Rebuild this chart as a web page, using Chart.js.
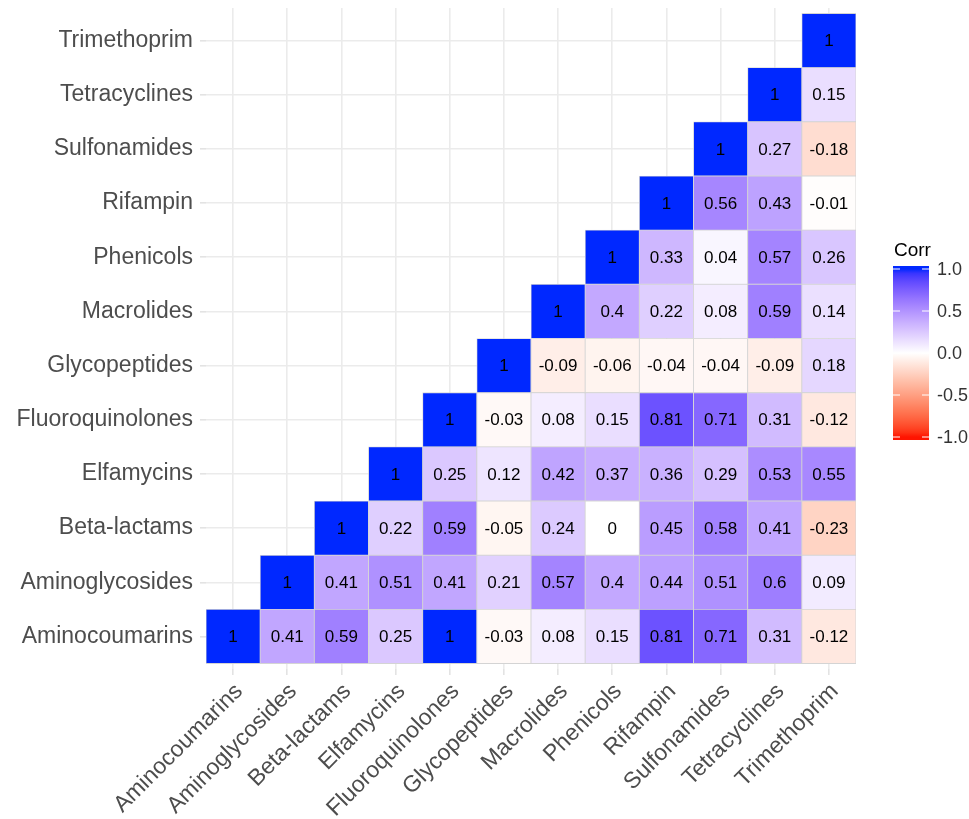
<!DOCTYPE html>
<html>
<head>
<meta charset="utf-8">
<script src="https://cdn.jsdelivr.net/npm/chart.js@4"></script>
<style>
  body { margin: 0; background: #fff; }
</style>
</head>
<body>
<canvas id="corrChart" width="969" height="819"></canvas>
<script>
const drugs = ['Aminocoumarins', 'Aminoglycosides', 'Beta-lactams', 'Elfamycins', 'Fluoroquinolones',
  'Glycopeptides', 'Macrolides', 'Phenicols', 'Rifampin', 'Sulfonamides', 'Tetracyclines', 'Trimethoprim'];

// each row starts at the diagonal and runs to the right
const aminocoumarins = [1, 0.41, 0.59, 0.25, 1, -0.03, 0.08, 0.15, 0.81, 0.71, 0.31, -0.12];
const aminoglycosides = [1, 0.41, 0.51, 0.41, 0.21, 0.57, 0.4, 0.44, 0.51, 0.6, 0.09];
const betaLactams = [1, 0.22, 0.59, -0.05, 0.24, 0, 0.45, 0.58, 0.41, -0.23];
const elfamycins = [1, 0.25, 0.12, 0.42, 0.37, 0.36, 0.29, 0.53, 0.55];
const fluoroquinolones = [1, -0.03, 0.08, 0.15, 0.81, 0.71, 0.31, -0.12];
const glycopeptides = [1, -0.09, -0.06, -0.04, -0.04, -0.09, 0.18];
const macrolides = [1, 0.4, 0.22, 0.08, 0.59, 0.14];
const phenicols = [1, 0.33, 0.04, 0.57, 0.26];
const rifampin = [1, 0.56, 0.43, -0.01];
const sulfonamides = [1, 0.27, -0.18];
const tetracyclines = [1, 0.15];
const trimethoprim = [1];

const corrRows = [aminocoumarins, aminoglycosides, betaLactams, elfamycins, fluoroquinolones,
  glycopeptides, macrolides, phenicols, rifampin, sulfonamides, tetracyclines, trimethoprim];
const legendTicks = [1, 0.5, 0, -0.5, -1];

const FONT = "'Liberation Sans', Arial, Helvetica, sans-serif";

// Lab interpolation like ggplot's scale_fill_gradient2
function toLin(c) { c /= 255; return c <= 0.04045 ? c / 12.92 : Math.pow((c + 0.055) / 1.055, 2.4); }
function fromLin(c) { c = c <= 0.0031308 ? 12.92 * c : 1.055 * Math.pow(c, 1 / 2.4) - 0.055; return Math.round(Math.min(1, Math.max(0, c)) * 255); }
function rgb2lab([r, g, b]) {
  r = toLin(r); g = toLin(g); b = toLin(b);
  const X = (0.4124 * r + 0.3576 * g + 0.1805 * b) / 0.95047;
  const Y = 0.2126 * r + 0.7152 * g + 0.0722 * b;
  const Z = (0.0193 * r + 0.1192 * g + 0.9505 * b) / 1.08883;
  const f = t => t > 0.008856 ? Math.cbrt(t) : 7.787 * t + 16 / 116;
  return [116 * f(Y) - 16, 500 * (f(X) - f(Y)), 200 * (f(Y) - f(Z))];
}
function lab2rgb([L, a, bb]) {
  const fy = (L + 16) / 116, fx = fy + a / 500, fz = fy - bb / 200;
  const inv = t => t * t * t > 0.008856 ? t * t * t : (t - 16 / 116) / 7.787;
  const X = 0.95047 * inv(fx), Y = inv(fy), Z = 1.08883 * inv(fz);
  const r = 3.2406 * X - 1.5372 * Y - 0.4986 * Z;
  const g = -0.9689 * X + 1.8758 * Y + 0.0415 * Z;
  const b = 0.0557 * X - 0.2040 * Y + 1.0570 * Z;
  return `rgb(${fromLin(r)},${fromLin(g)},${fromLin(b)})`;
}
const labWhite = rgb2lab([255, 255, 255]);
const labHigh = rgb2lab([0, 40, 255]);
const labLow = rgb2lab([255, 20, 0]);
function corrColor(v) {
  const end = v >= 0 ? labHigh : labLow;
  const t = Math.min(1, Math.abs(v));
  return lab2rgb(labWhite.map((w, k) => w + (end[k] - w) * t));
}

const datasets = corrRows.map((row, i) => ({
  label: drugs[i],
  data: drugs.map((_, j) => j >= i ? [i, i + 1] : null),
  backgroundColor: drugs.map((_, j) => j >= i ? corrColor(row[j - i]) : 'rgba(0,0,0,0)'),
  borderColor: '#d4d4d4',
  borderWidth: 0.8,
  borderSkipped: false,
  grouped: false,
  barPercentage: 1,
  categoryPercentage: 1
}));

const cellText = {
  id: 'cellText',
  afterDatasetsDraw(chart) {
    const ctx = chart.ctx;
    ctx.save();
    ctx.font = '17px ' + FONT;
    ctx.fillStyle = '#000';
    ctx.textAlign = 'center';
    ctx.textBaseline = 'middle';
    chart.data.datasets.forEach((ds, i) => {
      chart.getDatasetMeta(i).data.forEach((bar, j) => {
        if (ds.data[j] == null) return;
        ctx.fillText(String(corrRows[i][j - i]), bar.x, (bar.y + bar.base) / 2 + 1);
      });
    });
    ctx.restore();
  }
};

const colorbar = {
  id: 'colorbar',
  afterDraw(chart) {
    const ctx = chart.ctx;
    const ca = chart.chartArea;
    const x0 = ca.right + 37, w = 36;
    const yTop = ca.top + 261, yBot = ca.top + 429;
    const valY = v => yTop + (1 - v) / 2 * (yBot - yTop);
    ctx.save();
    const grad = ctx.createLinearGradient(0, yTop, 0, yBot);
    for (let k = 0; k <= 40; k++) {
      grad.addColorStop(k / 40, corrColor(1 - k / 20));
    }
    ctx.fillStyle = grad;
    ctx.fillRect(x0, yTop - 3, w, yBot - yTop + 6);
    ctx.strokeStyle = '#fff';
    ctx.lineWidth = 1;
    ctx.font = '18px ' + FONT;
    ctx.textBaseline = 'middle';
    ctx.textAlign = 'left';
    legendTicks.forEach(v => {
      const y = valY(v);
      ctx.beginPath();
      ctx.moveTo(x0, y); ctx.lineTo(x0 + 7, y);
      ctx.moveTo(x0 + w - 7, y); ctx.lineTo(x0 + w, y);
      ctx.stroke();
      ctx.fillStyle = '#333';
      ctx.fillText(v.toFixed(1), x0 + w + 8, y + 1);
    });
    ctx.fillStyle = '#000';
    ctx.font = '19px ' + FONT;
    ctx.textBaseline = 'alphabetic';
    ctx.fillText('Corr', x0 + 1, yTop - 13);
    ctx.restore();
  }
};

const gridOpts = { color: '#ebebeb', lineWidth: 1.6, tickLength: 6, tickColor: '#e3e3e3', offset: false };

new Chart(document.getElementById('corrChart'), {
  type: 'bar',
  data: { labels: drugs, datasets },
  options: {
    responsive: false,
    animation: false,
    layout: { padding: { top: 8, right: 113, left: 0, bottom: 0 } },
    plugins: { legend: { display: false }, tooltip: { enabled: false } },
    scales: {
      x: {
        type: 'category',
        offset: true,
        grid: gridOpts,
        border: { display: false },
        ticks: {
          autoSkip: false,
          minRotation: 45,
          maxRotation: 45,
          color: '#4d4d4d',
          padding: 3,
          labelOffset: 6,
          font: { size: 23, family: FONT }
        },
        afterFit: s => {
          s.height = 150;
          s.paddingLeft = 0; s.paddingRight = 0;
        }
      },
      y: {
        type: 'linear',
        min: -0.1,
        max: 12.1,
        grid: gridOpts,
        border: { display: false },
        afterBuildTicks: s => { s.ticks = drugs.map((_, i) => ({ value: i + 0.5 })); },
        ticks: {
          color: '#4d4d4d',
          padding: 7,
          font: { size: 23, family: FONT },
          callback: v => drugs[Math.round(v - 0.5)]
        },
        afterFit: s => {
          s.width = 206;
          s.paddingTop = 0; s.paddingBottom = 0;
        }
      }
    }
  },
  plugins: [cellText, colorbar]
});
</script>
</body>
</html>
